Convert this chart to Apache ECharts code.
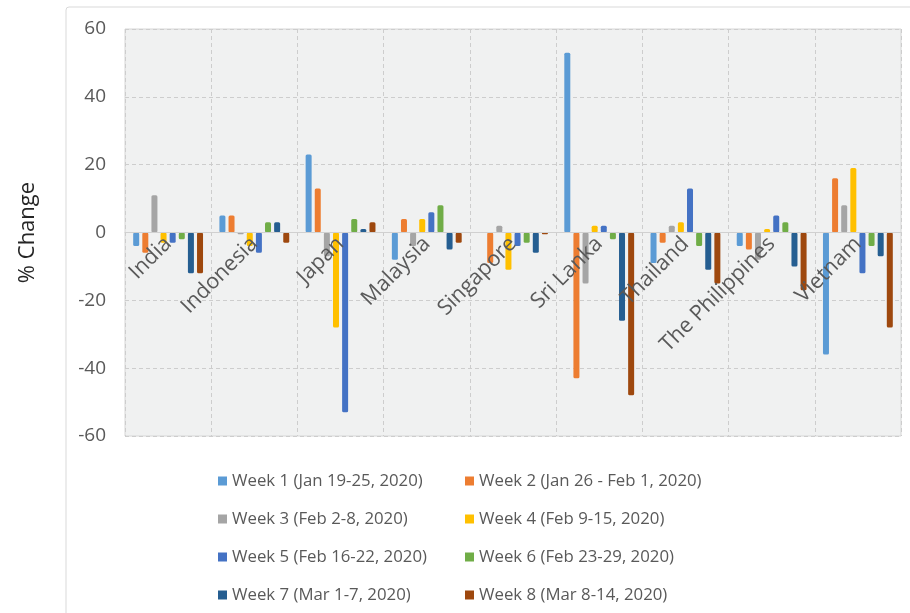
<!DOCTYPE html>
<html>
<head>
<meta charset="utf-8">
<script src="https://cdn.jsdelivr.net/npm/echarts@6/dist/echarts.min.js"></script>
<style>
  html, body { margin: 0; padding: 0; background: #fff; }
  #chart { width: 910px; height: 613px; }
</style>
</head>
<body>
<div id="chart"></div>
<script>
var countries = ['India', 'Indonesia', 'Japan', 'Malaysia', 'Singapore', 'Sri Lanka', 'Thailand', 'The Philippines', 'Vietnam'];
var weekNames = [
  'Week 1 (Jan 19-25, 2020)',
  'Week 2 (Jan 26 - Feb 1, 2020)',
  'Week 3 (Feb 2-8, 2020)',
  'Week 4 (Feb 9-15, 2020)',
  'Week 5 (Feb 16-22, 2020)',
  'Week 6 (Feb 23-29, 2020)',
  'Week 7 (Mar 1-7, 2020)',
  'Week 8 (Mar 8-14, 2020)'
];
var weekColors = ['#5b9bd5', '#ed7d31', '#a5a5a5', '#ffc000', '#4472c4', '#70ad47', '#255e91', '#9e480e'];

// % change per week, one value per country (same order as countries)
var week1 = [-4, 5, 23, -8, 0, 53, -9, -4, -36];
var week2 = [-6, 5, 13, 4, -9, -43, -3, -5, 16];
var week3 = [11, -0.5, -7, -4, 2, -15, 2, -8, 8];
var week4 = [-3, -4, -28, 4, -11, 2, 3, 1, 19];
var week5 = [-3, -6, -53, 6, -4, 2, 13, 5, -12];
var week6 = [-2, 3, 4, 8, -3, -2, -4, 3, -4];
var week7 = [-12, 3, 1, -5, -6, -26, -11, -10, -7];
var week8 = [-12, -3, 3, -3, -0.5, -48, -15, -17, -28];
var weeks = [week1, week2, week3, week4, week5, week6, week7, week8];

var yTicks = { min: -60, max: 60, interval: 20 };

var chart = echarts.init(document.getElementById('chart'));

var series = weeks.map(function (vals, i) {
  return {
    name: weekNames[i],
    type: 'bar',
    data: vals,
    barWidth: 6,
    barGap: '52%',
    itemStyle: { color: weekColors[i], borderRadius: 1.5 }
  };
});

var legendText = { color: '#595959', fontSize: 16.8, fontFamily: 'Open Sans', lineHeight: 20 };

// grid geometry, the category axis sits on the zero line
var gridTop = 29, gridBottom = 177, chartH = 613;
var plotH = chartH - gridTop - gridBottom;
var zeroOffset = -plotH * (0 - yTicks.min) / (yTicks.max - yTicks.min);

chart.setOption({
  animation: false,
  textStyle: { fontFamily: 'Open Sans' },
  graphic: [{
    type: 'rect',
    shape: { x: 66, y: 7, width: 900, height: 700, r: 3 },
    style: { fill: 'none', stroke: '#d9d9d9', lineWidth: 1 },
    z: -10
  }],
  grid: {
    left: 125, right: 9, top: gridTop, bottom: gridBottom,
    show: true,
    backgroundColor: '#f0f1f1',
    borderColor: '#d6d6d6',
    borderWidth: 1
  },
  legend: [
    {
      data: [weekNames[0], weekNames[2], weekNames[4], weekNames[6]],
      orient: 'vertical',
      left: 213, top: 466,
      itemWidth: 9, itemHeight: 9, itemGap: 18,
      icon: 'rect',
      textStyle: legendText
    },
    {
      data: [weekNames[1], weekNames[3], weekNames[5], weekNames[7]],
      orient: 'vertical',
      left: 460, top: 466,
      itemWidth: 9, itemHeight: 9, itemGap: 18,
      icon: 'rect',
      textStyle: legendText
    }
  ],
  xAxis: [
    {
      // main axis: bars and vertical grid lines
      type: 'category',
      data: countries,
      axisLine: { show: false },
      axisTick: { show: false },
      axisLabel: { show: false, interval: 0 },
      splitLine: { show: true, interval: 0, lineStyle: { color: '#cdcdcd', type: [4, 3], width: 1 } }
    },
    {
      // label axis placed on the zero line
      type: 'category',
      data: countries,
      position: 'bottom',
      offset: zeroOffset,
      z: 10,
      axisLine: { onZero: false, lineStyle: { color: '#d0d0d0', width: 1 } },
      axisTick: { show: false },
      axisLabel: {
        rotate: 45,
        interval: 0,
        margin: 8,
        color: '#595959',
        fontSize: 21.5,
        fontFamily: 'Open Sans'
      },
      splitLine: { show: false }
    }
  ],
  yAxis: {
    type: 'value',
    min: yTicks.min,
    max: yTicks.max,
    interval: yTicks.interval,
    name: '% Change',
    nameLocation: 'middle',
    nameGap: 86,
    nameTextStyle: { color: '#262626', fontSize: 22, fontFamily: 'Open Sans' },
    axisLine: { show: false },
    axisTick: { show: false },
    axisLabel: { color: '#595959', fontSize: 19, margin: 19, fontFamily: 'Open Sans' },
    splitLine: { show: true, lineStyle: { color: '#cdcdcd', type: [4, 3], width: 1 } }
  },
  series: series
});
</script>
</body>
</html>
